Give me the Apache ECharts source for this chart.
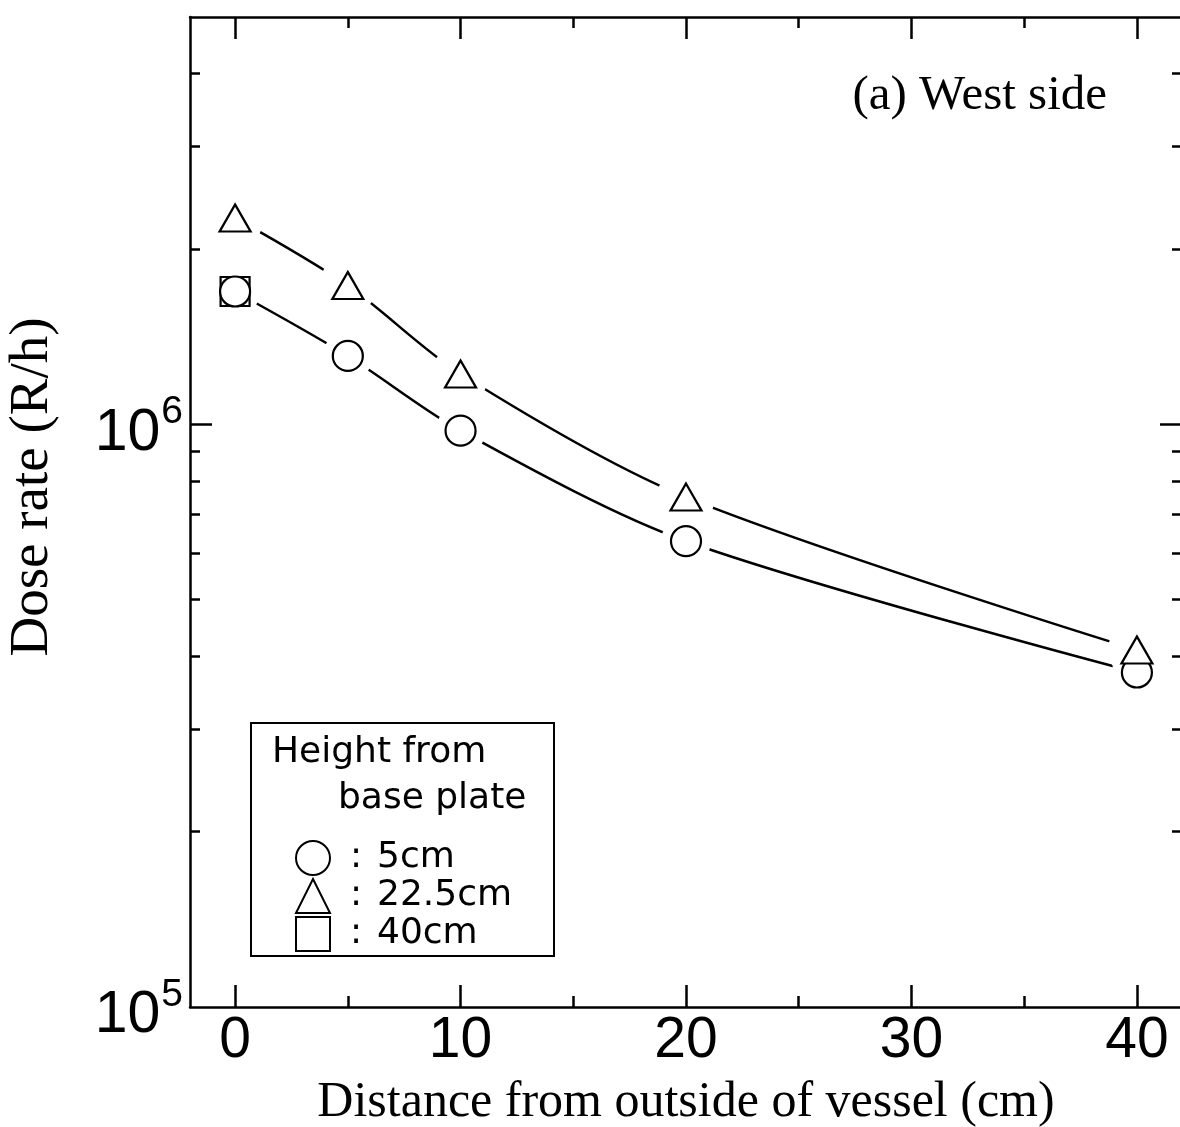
<!DOCTYPE html>
<html>
<head>
<meta charset="utf-8">
<script src="https://cdn.jsdelivr.net/npm/echarts@6/dist/echarts.min.js"></script>
<style>
html,body{margin:0;padding:0;background:#fff;}
#chart{width:1180px;height:1127px;}
</style>
</head>
<body>
<div id="chart"></div>
<script>
// ---- data ----
const distance = [0, 5, 10, 20, 40];
const dose5cm = [1.69e6, 1.31e6, 9.75e5, 6.3e5, 3.75e5];
const dose22cm = [2.26e6, 1.73e6, 1.22e6, 7.5e5, 4.1e5];
const distance40cm = [0];
const dose40cm = [1.69e6];
const xLabelTicks = [0, 10, 20, 30, 40];
const xMinorTicks = [5, 15, 25, 35];
const yLabelTicks = [1e5, 1e6];
const yMajorTicks = [1e6];
const yMinorTicks = [2e5, 3e5, 4e5, 5e5, 6e5, 7e5, 8e5, 9e5, 2e6, 3e6, 4e6];
const seriesNames = ['5cm', '22.5cm', '40cm'];

const pairs = (xs, ys) => xs.map((x, i) => [x, ys[i]]);

const sans = 'Liberation Sans, Arial, sans-serif';
const serif = 'Liberation Serif, Times New Roman, serif';
const lw = 2.5;

function xAx(pos, ticks, len, showLine, showLabel) {
  return {
    type: 'value', position: pos, min: -2, max: 42,
    axisLine: { show: showLine, onZero: false, lineStyle: { color: '#000', width: lw } },
    axisTick: { show: true, inside: true, length: len, customValues: ticks, lineStyle: { color: '#000', width: lw } },
    axisLabel: showLabel ? { show: true, customValues: xLabelTicks, color: '#000', fontFamily: sans, fontSize: 57, margin: 6 } : { show: false },
    splitLine: { show: false }
  };
}
function yAx(pos, ticks, len, showLine, showLabel) {
  return {
    type: 'log', logBase: 10, position: pos, min: 1e5, max: 5e6,
    axisLine: { show: showLine, onZero: false, lineStyle: { color: '#000', width: lw } },
    axisTick: { show: true, inside: true, length: len, customValues: ticks, lineStyle: { color: '#000', width: lw } },
    axisLabel: showLabel ? {
      show: true, customValues: yLabelTicks, margin: 7, color: '#000',
      formatter: v => '{b|10}{s|' + Math.round(Math.log10(v)) + '}',
      rich: {
        b: { fontFamily: sans, fontSize: 59, color: '#000', verticalAlign: 'bottom', padding: [18, 0, 0, 0] },
        s: { fontFamily: sans, fontSize: 39, color: '#000', verticalAlign: 'bottom', padding: [0, 0, 31, 1] }
      }
    } : { show: false },
    splitLine: { show: false }
  };
}

const xAxes = [
  xAx('bottom', xMinorTicks, 11, true, true),
  xAx('bottom', xLabelTicks, 22, false, false),
  xAx('top', xMinorTicks, 11, true, false),
  xAx('top', xLabelTicks, 22, false, false)
];
xAxes[0].name = 'Distance from outside of vessel (cm)';
xAxes[0].nameLocation = 'middle';
xAxes[0].nameGap = 71;
xAxes[0].nameTextStyle = { fontFamily: serif, fontSize: 50, color: '#000' };

const yAxes = [
  yAx('left', yMinorTicks, 10, true, true),
  yAx('left', yMajorTicks, 22, false, false),
  yAx('right', yMinorTicks, 10, true, false),
  yAx('right', yMajorTicks, 22, false, false)
];
yAxes[0].name = 'Dose rate (R/h)';
yAxes[0].nameLocation = 'middle';
yAxes[0].nameGap = 130;
yAxes[0].nameTextStyle = { fontFamily: serif, fontSize: 55, color: '#000', padding: [0, 0, 0, 50] };

const markerStyle = { color: '#fff', borderColor: '#000', borderWidth: 2.2, opacity: 1 };

const option = {
  backgroundColor: '#fff',
  animation: false,
  grid: { left: 190, right: -2, top: 17, bottom: 120, containLabel: false, outerBoundsMode: 'none' },
  xAxis: xAxes,
  yAxis: yAxes,
  legend: {
    orient: 'vertical', left: 295, top: 840, z: 10, padding: 0,
    itemWidth: 34, itemHeight: 34, itemGap: 2,
    selectedMode: false,
    data: [
      { name: seriesNames[0], icon: 'circle' },
      { name: seriesNames[1], icon: 'triangle' },
      { name: seriesNames[2], icon: 'rect' }
    ],
    itemStyle: { color: '#fff', borderColor: '#000', borderWidth: 2, opacity: 1 },
    formatter: n => '{c|:}' + n,
    textStyle: {
      fontFamily: 'DejaVu Sans', fontSize: 36, color: '#000',
      rich: { c: { fontFamily: 'DejaVu Sans', fontSize: 36, width: 42, align: 'center', color: '#000' } }
    }
  },
  graphic: [
    { type: 'rect', shape: { x: 251, y: 723, width: 303, height: 233 }, style: { fill: '#fff', stroke: '#000', lineWidth: 2 }, z: 3 },
    { type: 'text', style: { x: 272, y: 753, text: 'Height from', font: '36px DejaVu Sans', fill: '#000', textVerticalAlign: 'middle' }, z: 6 },
    { type: 'text', style: { x: 338, y: 799, text: 'base plate', font: '36px DejaVu Sans', fill: '#000', textVerticalAlign: 'middle' }, z: 6 },
    { type: 'text', style: { x: 1107, y: 96, text: '(a) West side', font: '49px Liberation Serif', fill: '#000', textAlign: 'right', textVerticalAlign: 'middle' }, z: 6 }
  ],
  series: [
    { name: '5cm line', type: 'line', data: pairs(distance, dose5cm), smooth: 0.3, showSymbol: false, lineStyle: { color: '#000', width: 2.5 }, z: 2, silent: true },
    { name: '22.5cm line', type: 'line', data: pairs(distance, dose22cm), smooth: 0.3, showSymbol: false, lineStyle: { color: '#000', width: 2.5 }, z: 2, silent: true },
    { name: 'halo1', type: 'scatter', data: pairs(distance, dose5cm), symbol: 'circle', symbolSize: 50, itemStyle: { color: '#fff', opacity: 1 }, z: 3, silent: true },
    { name: 'halo2', type: 'scatter', data: pairs(distance, dose22cm), symbol: 'circle', symbolSize: 58, itemStyle: { color: '#fff', opacity: 1 }, z: 3, silent: true },
    { name: seriesNames[2], type: 'scatter', data: pairs(distance40cm, dose40cm), symbol: 'rect', symbolSize: 29, itemStyle: markerStyle, z: 4 },
    { name: seriesNames[0], type: 'scatter', data: pairs(distance, dose5cm), symbol: 'circle', symbolSize: 30, itemStyle: markerStyle, z: 4 },
    { name: seriesNames[1], type: 'scatter', data: pairs(distance, dose22cm), symbol: 'triangle', symbolSize: [31, 27], itemStyle: markerStyle, z: 4 }
  ]
};

const chart = echarts.init(document.getElementById('chart'), null, { renderer: 'canvas' });
chart.setOption(option);
</script>
</body>
</html>
